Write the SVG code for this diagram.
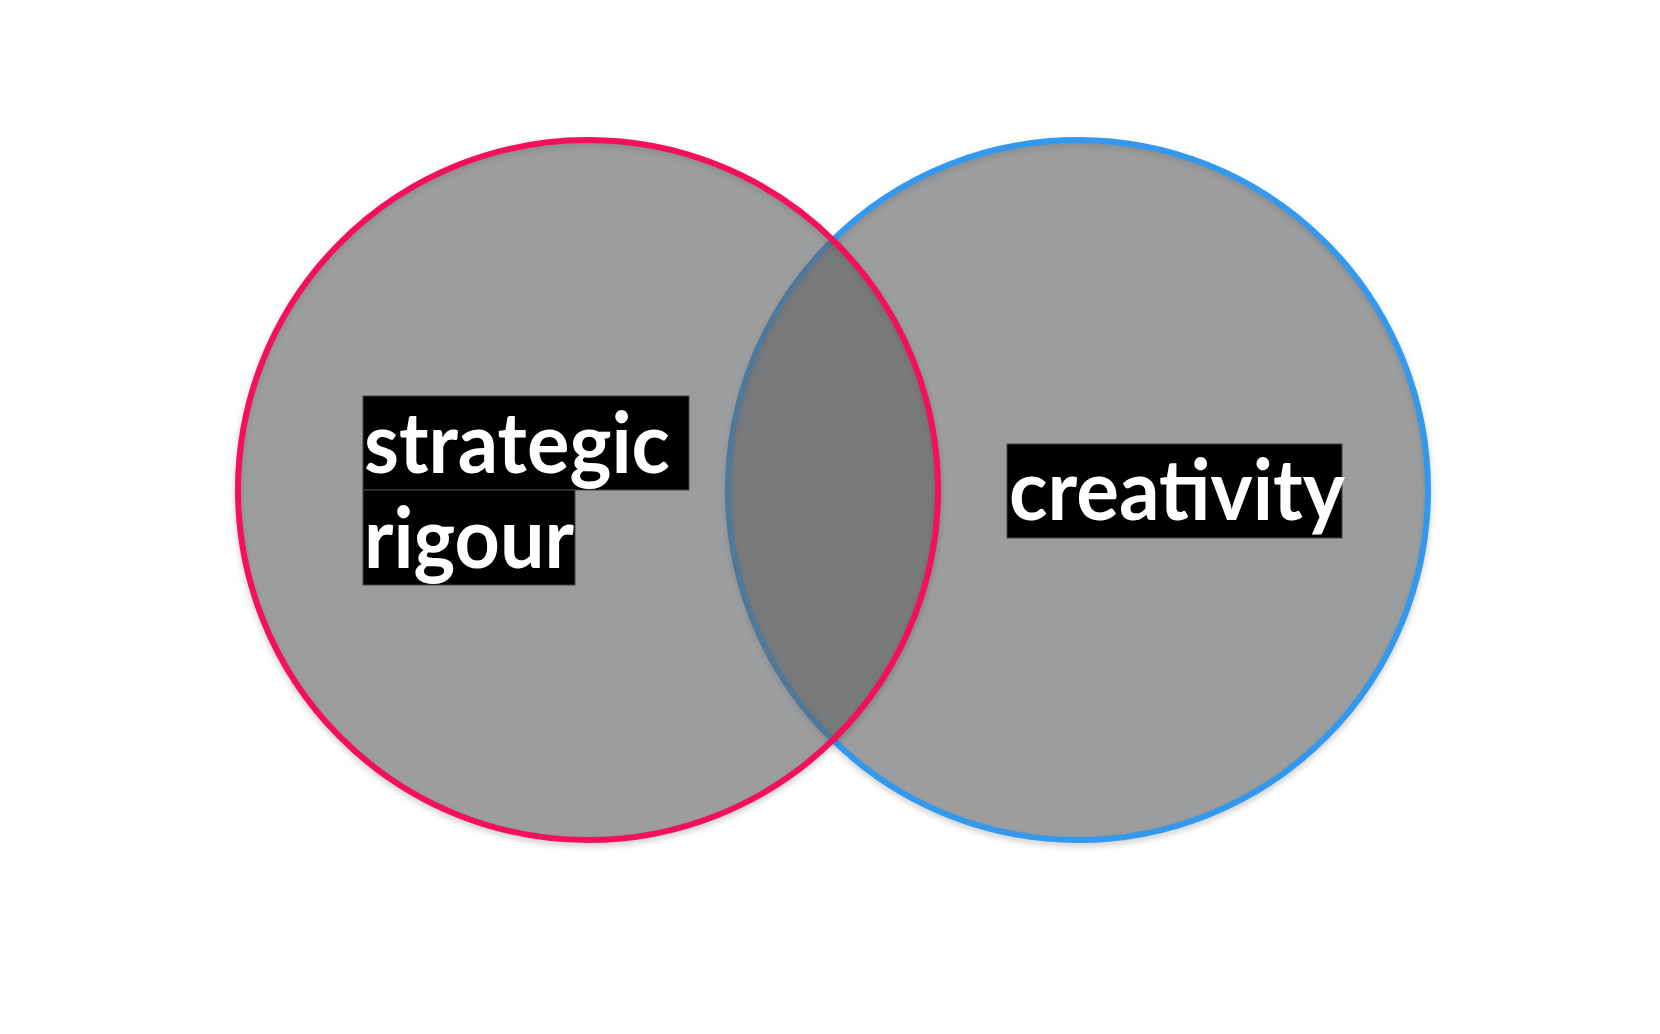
<svg xmlns="http://www.w3.org/2000/svg" width="1660" height="1034" viewBox="0 0 1660 1034">
<defs>
<filter id="sh" x="-10%" y="-10%" width="120%" height="120%">
<feGaussianBlur stdDeviation="3"/>
</filter>
</defs>
<style>
.shadow{fill:none;stroke:#000;stroke-opacity:0.22;stroke-width:6;filter:url(#sh)}
.disc{fill:#636466;fill-opacity:0.636;stroke-width:6}
.box{fill:#000;stroke:#444;stroke-width:1}
.lbl{font-family:Lato,"Noto Sans",sans-serif;font-weight:bold;font-size:84px;fill:#fff}
</style>
<rect width="1660" height="1034" fill="#fff"/>
<g id="creativity-circle">
<circle class="shadow" cx="1078" cy="493" r="350"/>
<circle class="disc" cx="1078" cy="490" r="350" stroke="#3399ee"/>
</g>
<g id="strategic-rigour-circle">
<circle class="shadow" cx="588" cy="493" r="350"/>
<circle class="disc" cx="588" cy="490" r="350" stroke="#f4105a"/>
</g>
<g id="connectors"></g>
<g id="strategic-rigour-label">
<rect class="box" x="363" y="396" width="326" height="94"/>
<rect class="box" x="363" y="490" width="212" height="95"/>
<text class="lbl" x="364" y="473" textLength="306" lengthAdjust="spacingAndGlyphs">strategic</text>
<text class="lbl" x="364" y="568" textLength="210" lengthAdjust="spacingAndGlyphs">rigour</text>
</g>
<g id="creativity-label">
<rect class="box" x="1007" y="444" width="335" height="94"/>
<text class="lbl" x="1009" y="520" textLength="336" lengthAdjust="spacingAndGlyphs">creativity</text>
</g>
</svg>
